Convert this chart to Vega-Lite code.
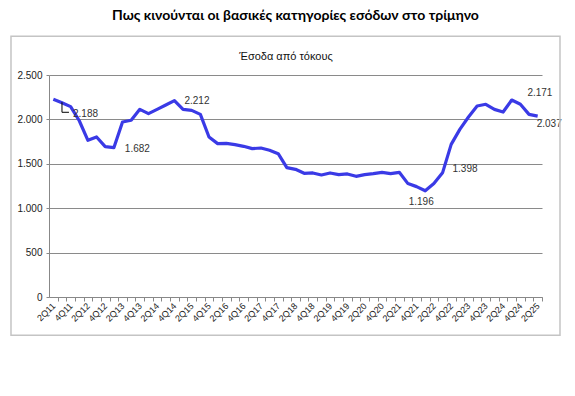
{
  "$schema": "https://vega.github.io/schema/vega-lite/v6.json",
  "width": 493,
  "height": 222,
  "padding": {"left": 10, "right": 16, "top": 8, "bottom": 10},
  "background": "white",
  "title": {
    "text": "Πως κινούνται οι βασικές κατηγορίες εσόδων στο τρίμηνο",
    "font": "Lato",
    "fontSize": 14,
    "fontWeight": "bold",
    "color": "#000000",
    "anchor": "middle",
    "offset": 13
  },
  "config": {
    "locale": {"number": {"decimal": ",", "thousands": ".", "grouping": [3], "currency": ["", " €"]}},
    "view": {"stroke": null},
    "axis": {"labelFont": "Liberation Sans", "labelColor": "#222222", "domainColor": "#888888", "tickColor": "#888888", "gridColor": "#8a8a8a"}
  },
  "data": {
    "values": [
      {"i": 0, "q": "2Q11", "v": 2226}, {"i": 1, "q": "3Q11", "v": 2188}, {"i": 2, "q": "4Q11", "v": 2144},
      {"i": 3, "q": "1Q12", "v": 1985}, {"i": 4, "q": "2Q12", "v": 1764}, {"i": 5, "q": "3Q12", "v": 1802}, {"i": 6, "q": "4Q12", "v": 1693},
      {"i": 7, "q": "1Q13", "v": 1682}, {"i": 8, "q": "2Q13", "v": 1971}, {"i": 9, "q": "3Q13", "v": 1990}, {"i": 10, "q": "4Q13", "v": 2113},
      {"i": 11, "q": "1Q14", "v": 2065}, {"i": 12, "q": "2Q14", "v": 2113}, {"i": 13, "q": "3Q14", "v": 2162}, {"i": 14, "q": "4Q14", "v": 2212},
      {"i": 15, "q": "1Q15", "v": 2113}, {"i": 16, "q": "2Q15", "v": 2102}, {"i": 17, "q": "3Q15", "v": 2057}, {"i": 18, "q": "4Q15", "v": 1802},
      {"i": 19, "q": "1Q16", "v": 1727}, {"i": 20, "q": "2Q16", "v": 1730}, {"i": 21, "q": "3Q16", "v": 1716}, {"i": 22, "q": "4Q16", "v": 1697},
      {"i": 23, "q": "1Q17", "v": 1671}, {"i": 24, "q": "2Q17", "v": 1678}, {"i": 25, "q": "3Q17", "v": 1652}, {"i": 26, "q": "4Q17", "v": 1614},
      {"i": 27, "q": "1Q18", "v": 1457}, {"i": 28, "q": "2Q18", "v": 1438}, {"i": 29, "q": "3Q18", "v": 1393}, {"i": 30, "q": "4Q18", "v": 1397},
      {"i": 31, "q": "1Q19", "v": 1374}, {"i": 32, "q": "2Q19", "v": 1397}, {"i": 33, "q": "3Q19", "v": 1378}, {"i": 34, "q": "4Q19", "v": 1386},
      {"i": 35, "q": "1Q20", "v": 1359}, {"i": 36, "q": "2Q20", "v": 1378}, {"i": 37, "q": "3Q20", "v": 1389}, {"i": 38, "q": "4Q20", "v": 1404},
      {"i": 39, "q": "1Q21", "v": 1389}, {"i": 40, "q": "2Q21", "v": 1404}, {"i": 41, "q": "3Q21", "v": 1277}, {"i": 42, "q": "4Q21", "v": 1243},
      {"i": 43, "q": "1Q22", "v": 1196}, {"i": 44, "q": "2Q22", "v": 1277}, {"i": 45, "q": "3Q22", "v": 1398}, {"i": 46, "q": "4Q22", "v": 1719},
      {"i": 47, "q": "1Q23", "v": 1888}, {"i": 48, "q": "2Q23", "v": 2027}, {"i": 49, "q": "3Q23", "v": 2151}, {"i": 50, "q": "4Q23", "v": 2170},
      {"i": 51, "q": "1Q24", "v": 2113}, {"i": 52, "q": "2Q24", "v": 2083}, {"i": 53, "q": "3Q24", "v": 2218}, {"i": 54, "q": "4Q24", "v": 2171},
      {"i": 55, "q": "1Q25", "v": 2057}, {"i": 56, "q": "2Q25", "v": 2037}
    ]
  },
  "layer": [
    {
      "encoding": {
        "x": {
          "field": "i", "type": "quantitative",
          "scale": {"domain": [-0.5, 56.5], "nice": false, "zero": false},
          "axis": {"title": null, "labelAngle": -45, "labelFontSize": 9, "labelOverlap": false, "labelAlign": "right", "labelBaseline": "middle", "values": [0,1,2,3,4,5,6,7,8,9,10,11,12,13,14,15,16,17,18,19,20,21,22,23,24,25,26,27,28,29,30,31,32,33,34,35,36,37,38,39,40,41,42,43,44,45,46,47,48,49,50,51,52,53,54,55,56], "labelExpr": "datum.value % 2 == 0 ? ((datum.value + 1) % 4 + 1) + 'Q' + (11 + floor((datum.value + 1) / 4)) : ''", "tickOffset": 4.32, "labelOffset": -4.32, "tickSize": 4, "labelPadding": 3, "grid": false}
        },
        "y": {
          "field": "v", "type": "quantitative",
          "scale": {"domain": [0, 2500], "nice": false, "zero": true},
          "axis": {"title": null, "values": [0, 500, 1000, 1500, 2000, 2500], "format": ",.0f", "labelFontSize": 10, "tickSize": 3, "labelPadding": 4, "grid": true, "gridWidth": 1}
        }
      },
      "layer": [
        {"mark": {"type": "line", "color": "#3a3ae6", "strokeWidth": 3.2, "strokeJoin": "round"}},
        {"transform": [{"filter": "datum.q == '3Q11'"}], "mark": {"type": "text", "align": "left", "dx": 11, "dy": 11, "fontSize": 10, "font": "Liberation Sans", "color": "#333333"}, "encoding": {"text": {"field": "v", "type": "quantitative", "format": ",.0f"}}},
        {"transform": [{"filter": "datum.q == '1Q13'"}], "mark": {"type": "text", "align": "left", "dx": 11, "dy": 1, "fontSize": 10, "font": "Liberation Sans", "color": "#333333"}, "encoding": {"text": {"field": "v", "type": "quantitative", "format": ",.0f"}}},
        {"transform": [{"filter": "datum.q == '4Q14'"}], "mark": {"type": "text", "align": "left", "dx": 10, "dy": 0, "fontSize": 10, "font": "Liberation Sans", "color": "#333333"}, "encoding": {"text": {"field": "v", "type": "quantitative", "format": ",.0f"}}},
        {"transform": [{"filter": "datum.q == '1Q22'"}], "mark": {"type": "text", "align": "center", "dx": -4, "dy": 11, "fontSize": 10, "font": "Liberation Sans", "color": "#333333"}, "encoding": {"text": {"field": "v", "type": "quantitative", "format": ",.0f"}}},
        {"transform": [{"filter": "datum.q == '3Q22'"}], "mark": {"type": "text", "align": "left", "dx": 10, "dy": -4, "fontSize": 10, "font": "Liberation Sans", "color": "#333333"}, "encoding": {"text": {"field": "v", "type": "quantitative", "format": ",.0f"}}},
        {"transform": [{"filter": "datum.q == '4Q24'"}], "mark": {"type": "text", "align": "left", "dx": 7, "dy": -11, "fontSize": 10, "font": "Liberation Sans", "color": "#333333"}, "encoding": {"text": {"field": "v", "type": "quantitative", "format": ",.0f"}}},
        {"transform": [{"filter": "datum.q == '2Q25'"}], "mark": {"type": "text", "align": "left", "dx": -1, "dy": 8, "fontSize": 10, "font": "Liberation Sans", "color": "#333333"}, "encoding": {"text": {"field": "v", "type": "quantitative", "format": ",.0f"}}}
      ]
    },
    {
      "data": {"values": [{"frame": 1}]},
      "mark": {"type": "rect", "filled": false, "stroke": "#c4c4c4", "strokeWidth": 1.5},
      "encoding": {
        "x": {"datum": -4.894, "type": "quantitative", "scale": {"domain": [-0.5, 56.5], "nice": false, "zero": false},
          "axis": {"title": null, "labelAngle": -45, "labelFontSize": 9, "labelOverlap": false, "labelAlign": "right", "labelBaseline": "middle", "values": [0,1,2,3,4,5,6,7,8,9,10,11,12,13,14,15,16,17,18,19,20,21,22,23,24,25,26,27,28,29,30,31,32,33,34,35,36,37,38,39,40,41,42,43,44,45,46,47,48,49,50,51,52,53,54,55,56], "labelExpr": "datum.value % 2 == 0 ? ((datum.value + 1) % 4 + 1) + 'Q' + (11 + floor((datum.value + 1) / 4)) : ''", "tickOffset": 4.32, "labelOffset": -4.32, "tickSize": 4, "labelPadding": 3, "grid": false}},
        "x2": {"datum": 58.58},
        "y": {"datum": -431, "type": "quantitative", "scale": {"domain": [0, 2500], "nice": false, "zero": true},
          "axis": {"title": null, "values": [0, 500, 1000, 1500, 2000, 2500], "format": ",.0f", "labelFontSize": 10, "tickSize": 3, "labelPadding": 4, "grid": true, "gridWidth": 1}},
        "y2": {"datum": 2936}
      }
    },
    {
      "data": {"values": [{"frame": 1}]},
      "mark": {"type": "text", "text": "Έσοδα από τόκους", "font": "Liberation Sans", "fontSize": 11, "color": "#111111", "align": "center", "baseline": "middle"},
      "encoding": {
        "x": {"datum": 26.9, "type": "quantitative", "scale": {"domain": [-0.5, 56.5], "nice": false, "zero": false},
          "axis": {"title": null, "labelAngle": -45, "labelFontSize": 9, "labelOverlap": false, "labelAlign": "right", "labelBaseline": "middle", "values": [0,1,2,3,4,5,6,7,8,9,10,11,12,13,14,15,16,17,18,19,20,21,22,23,24,25,26,27,28,29,30,31,32,33,34,35,36,37,38,39,40,41,42,43,44,45,46,47,48,49,50,51,52,53,54,55,56], "labelExpr": "datum.value % 2 == 0 ? ((datum.value + 1) % 4 + 1) + 'Q' + (11 + floor((datum.value + 1) / 4)) : ''", "tickOffset": 4.32, "labelOffset": -4.32, "tickSize": 4, "labelPadding": 3, "grid": false}},
        "y": {"datum": 2700, "type": "quantitative", "scale": {"domain": [0, 2500], "nice": false, "zero": true},
          "axis": {"title": null, "values": [0, 500, 1000, 1500, 2000, 2500], "format": ",.0f", "labelFontSize": 10, "tickSize": 3, "labelPadding": 4, "grid": true, "gridWidth": 1}}
      }
    },
    {
      "data": {"values": [{"frame": 1}]},
      "mark": {"type": "rule", "color": "#000000", "strokeWidth": 1},
      "encoding": {
        "x": {"datum": 1.0, "type": "quantitative", "scale": {"domain": [-0.5, 56.5], "nice": false, "zero": false},
          "axis": {"title": null, "labelAngle": -45, "labelFontSize": 9, "labelOverlap": false, "labelAlign": "right", "labelBaseline": "middle", "values": [0,1,2,3,4,5,6,7,8,9,10,11,12,13,14,15,16,17,18,19,20,21,22,23,24,25,26,27,28,29,30,31,32,33,34,35,36,37,38,39,40,41,42,43,44,45,46,47,48,49,50,51,52,53,54,55,56], "labelExpr": "datum.value % 2 == 0 ? ((datum.value + 1) % 4 + 1) + 'Q' + (11 + floor((datum.value + 1) / 4)) : ''", "tickOffset": 4.32, "labelOffset": -4.32, "tickSize": 4, "labelPadding": 3, "grid": false}},
        "y": {"datum": 2193, "type": "quantitative", "scale": {"domain": [0, 2500], "nice": false, "zero": true},
          "axis": {"title": null, "values": [0, 500, 1000, 1500, 2000, 2500], "format": ",.0f", "labelFontSize": 10, "tickSize": 3, "labelPadding": 4, "grid": true, "gridWidth": 1}},
        "y2": {"datum": 2080}
      }
    },
    {
      "data": {"values": [{"frame": 1}]},
      "mark": {"type": "rule", "color": "#000000", "strokeWidth": 1},
      "encoding": {
        "x": {"datum": 1.0, "type": "quantitative", "scale": {"domain": [-0.5, 56.5], "nice": false, "zero": false},
          "axis": {"title": null, "labelAngle": -45, "labelFontSize": 9, "labelOverlap": false, "labelAlign": "right", "labelBaseline": "middle", "values": [0,1,2,3,4,5,6,7,8,9,10,11,12,13,14,15,16,17,18,19,20,21,22,23,24,25,26,27,28,29,30,31,32,33,34,35,36,37,38,39,40,41,42,43,44,45,46,47,48,49,50,51,52,53,54,55,56], "labelExpr": "datum.value % 2 == 0 ? ((datum.value + 1) % 4 + 1) + 'Q' + (11 + floor((datum.value + 1) / 4)) : ''", "tickOffset": 4.32, "labelOffset": -4.32, "tickSize": 4, "labelPadding": 3, "grid": false}},
        "x2": {"datum": 1.81},
        "y": {"datum": 2080, "type": "quantitative", "scale": {"domain": [0, 2500], "nice": false, "zero": true},
          "axis": {"title": null, "values": [0, 500, 1000, 1500, 2000, 2500], "format": ",.0f", "labelFontSize": 10, "tickSize": 3, "labelPadding": 4, "grid": true, "gridWidth": 1}}
      }
    }
  ]
}
